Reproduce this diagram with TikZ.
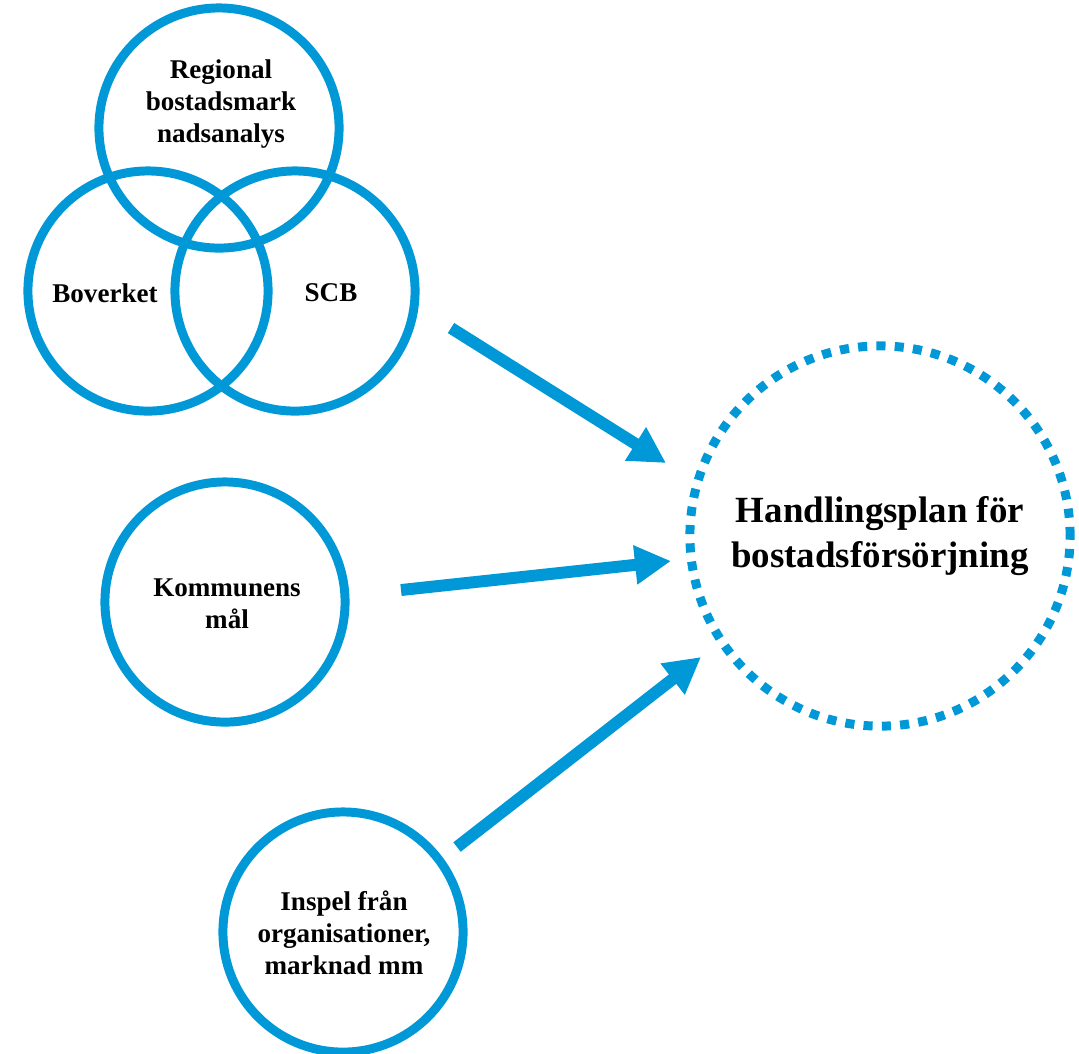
\documentclass[tikz,border=0pt]{standalone}
\usepackage{fontspec}
\setmainfont{Liberation Serif}
\usetikzlibrary{arrows.meta}
\definecolor{planblue}{RGB}{0,152,214}
\tikzstyle{ring}=[draw=planblue, circle, line width=2.55pt, minimum size=2.4cm, inner sep=0pt]
\tikzstyle{goal}=[draw=planblue, circle, line width=2.55pt, minimum size=3.8cm, inner sep=0pt,
    dash pattern=on 2.6pt off 2.61pt]
\tikzstyle{srctext}=[align=center, font=\bfseries\fontsize{7.7}{9.1}\selectfont, inner sep=0pt]
\tikzstyle{flow}=[draw=planblue, line width=3.4pt, -{Triangle[length=0.36cm,width=0.37cm]}]

\begin{document}
\begin{tikzpicture}[x=0.01cm, y=-0.01cm]
    \useasboundingbox (0,0) rectangle (1079,1053);

    % sources
    \foreach \pos/\name in {
                            {(219,128)/reg},
                            {(148,291)/bov},
                            {(295,291)/scb},
                            {(225,602)/kom},
                            {(343,932)/insp}}
        \node[ring] (\name) at \pos {};

    \node[goal, align=center, font=\bfseries\fontsize{10.5}{12.8}\selectfont] (plan) at (880,536)
        {Handlingsplan för\\bostadsförsörjning};

    % texts
    \foreach \pos/\name/\text in {
                            {(221,104)/regtxt/{Regional\\bostadsmark\\nadsanalys}},
                            {(105,293)/bovtxt/Boverket},
                            {(331,293)/scbtxt/SCB},
                            {(227,604)/komtxt/{Kommunens\\mål}},
                            {(344,933)/insptxt/{Inspel från\\organisationer,\\marknad mm}}}
        \node[srctext] (\name) at \pos {\text};

    % arrow ends
    \foreach \x/\y/\name in {451/328/a1, 666/463/b1,
                             401/590/a2, 671/561/b2,
                             457/847/a3, 701/657/b3}
        \coordinate (\name) at (\x,\y);

    \foreach \source/ \dest in {a1/b1, a2/b2, a3/b3}
        \path[flow] (\source) -- (\dest);

\end{tikzpicture}
\end{document}
